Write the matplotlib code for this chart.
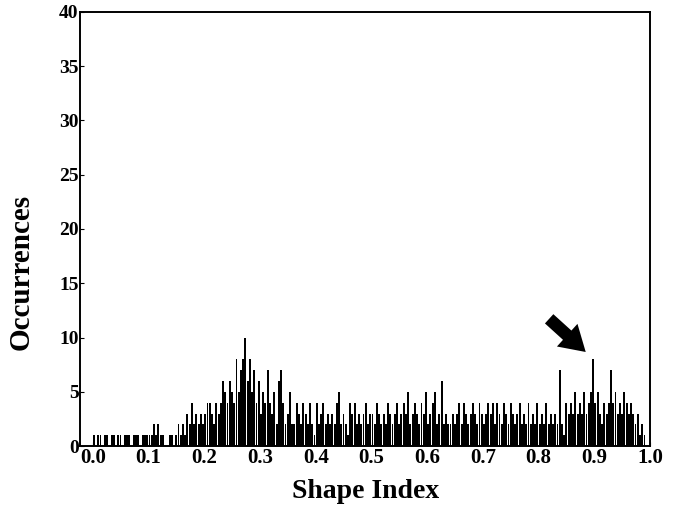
import matplotlib
matplotlib.use("Agg")
import matplotlib.pyplot as plt
import numpy as np

# histogram of shape index, bin width 0.004 (250 bins), read by eye
bin_width = 0.004
counts = [
    1, 0, 1, 1, 0,   1, 1, 0, 1, 1,   0, 1, 1, 0, 1,   1, 1, 0, 1, 1,   # 0.00-0.08
    1, 0, 1, 1, 1,   1, 1, 2, 1, 2,   1, 1, 0, 0, 1,   1, 0, 1, 2, 1,   # 0.08-0.16
    2, 1, 3, 2, 4,   2, 3, 2, 3, 2,   3, 4, 4, 3, 2,   4, 3, 4, 6, 5,   # 0.16-0.24
    4, 6, 5, 4, 8,   5, 7, 8, 10, 6,  8, 5, 7, 4, 6,   3, 5, 4, 7, 4,   # 0.24-0.32
    3, 5, 2, 6, 7,   4, 2, 3, 5, 2,   2, 4, 3, 2, 4,   3, 2, 4, 2, 1,   # 0.32-0.40
    4, 2, 3, 4, 2,   3, 2, 3, 2, 4,   5, 2, 3, 2, 1,   4, 3, 4, 2, 3,   # 0.40-0.48
    2, 3, 4, 2, 3,   3, 2, 4, 3, 2,   3, 2, 4, 3, 2,   3, 4, 2, 3, 4,   # 0.48-0.56
    3, 5, 2, 3, 4,   3, 2, 4, 3, 5,   2, 3, 4, 5, 2,   3, 6, 2, 3, 2,   # 0.56-0.64
    2, 3, 2, 3, 4,   2, 4, 3, 2, 3,   4, 3, 2, 4, 3,   2, 3, 4, 3, 4,   # 0.64-0.72
    2, 4, 3, 2, 4,   3, 2, 4, 3, 2,   3, 4, 2, 3, 2,   4, 2, 3, 2, 4,   # 0.72-0.80
    2, 3, 2, 4, 2,   3, 2, 3, 2, 7,   2, 1, 4, 3, 4,   3, 5, 3, 4, 3,   # 0.80-0.88
    5, 3, 4, 5, 8,   4, 5, 3, 2, 4,   3, 4, 7, 4, 5,   3, 4, 3, 5, 4,   # 0.88-0.96
    3, 4, 3, 2, 3,   1, 2, 1, 0, 0,                                     # 0.96-1.00
]
x_ticks = [0.0, 0.1, 0.2, 0.3, 0.4, 0.5, 0.6, 0.7, 0.8, 0.9, 1.0]
y_ticks = [0, 5, 10, 15, 20, 25, 30, 35, 40]

plt.rcParams['font.family'] = ['Liberation Serif', 'DejaVu Serif']
plt.rcParams['font.weight'] = 'bold'

fig = plt.figure(figsize=(6.78, 5.14), dpi=100)
ax = fig.add_axes([0.118, 0.132, 0.841, 0.845])

edges = np.arange(len(counts)) * bin_width
ax.bar(edges, counts, width=bin_width * 0.85, align='edge', color='black', linewidth=0)

ax.set_xlim(-0.023, 1.0)
ax.set_ylim(0, 40)
ax.set_xticks(x_ticks)
ax.set_xticklabels(['%.1f' % t for t in x_ticks], fontsize=15, fontweight='bold')
ax.set_yticks(y_ticks)
ax.set_yticklabels([str(t) for t in y_ticks], fontsize=14, fontweight='bold')
ax.tick_params(axis='x', direction='in', length=3, pad=1)
ax.tick_params(axis='y', direction='in', length=3, pad=1)
for s in ax.spines.values():
    s.set_linewidth(1.4)

ax.set_xlabel('Shape Index', fontsize=20, fontweight='bold', labelpad=8)
ax.set_ylabel('Occurrences', fontsize=21, fontweight='bold')
ax.yaxis.set_label_coords(-0.08, 0.40)

# arrow pointing at the peak near 0.9
ax.annotate('', xy=(0.888, 8.5), xytext=(0.815, 11.9),
            arrowprops=dict(arrowstyle='simple,head_width=2.2,head_length=1.8,tail_width=0.9',
                            color='black', lw=0))

fig.savefig('out.png', dpi=100)
